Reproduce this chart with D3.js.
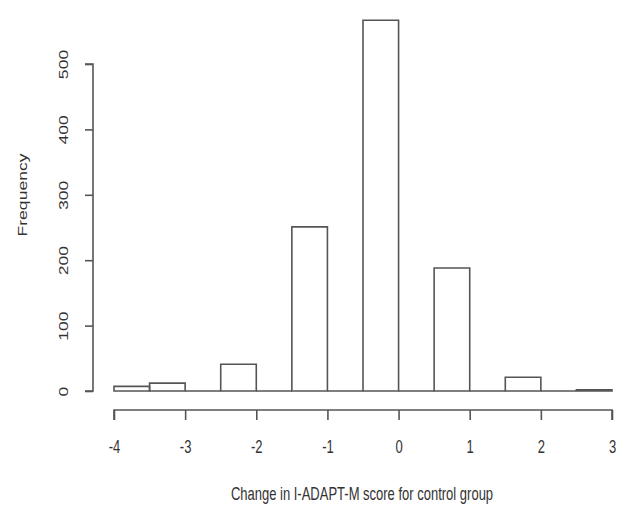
<!DOCTYPE html>
<html><head><meta charset="utf-8">
<script src="https://cdn.jsdelivr.net/npm/d3@7"></script>
<style>body{margin:0;background:#fff}text{font-family:"Liberation Sans",Arial,sans-serif}</style>
</head><body><svg id="c" width="619" height="506"></svg>
<script>
const binStarts = [-4,-3.5,-3,-2.5,-2,-1.5,-1,-0.5,0,0.5,1,1.5,2,2.5];
const counts    = [7,12,0,41,0,251,0,567,0,188,0,21,0,2];
const xTicks = [-4,-3,-2,-1,0,1,2,3];
const yTicks = [0,100,200,300,400,500];
const xTitle = "Change in I-ADAPT-M score for control group";
const yTitle = "Frequency";

const svg = d3.select("#c");
const x = d3.scaleLinear().domain([-4,3]).range([114,612]);
const y = d3.scaleLinear().domain([0,500]).range([391,64]);
const col = "#555";
const stretch = 1.35;

svg.selectAll("path.bar").data(binStarts).enter().append("path")
  .attr("d", (d,i) => `M${x(d)},${y(0)}V${y(counts[i])}H${x(d+0.5)}V${y(0)}Z`)
  .attr("fill","none").attr("stroke",col).attr("stroke-width",1.6);

const xa = svg.append("g").attr("transform","translate(0,410)")
  .call(d3.axisBottom(x).tickValues(xTicks).tickSize(10).tickPadding(0).tickFormat(d => String(d)));
const ya = svg.append("g").attr("transform","translate(93,0)")
  .call(d3.axisLeft(y).tickValues(yTicks).tickSize(8).tickPadding(0));
[xa,ya].forEach(a=>{
  a.select(".domain").attr("stroke",col).attr("stroke-width",1.6);
  a.selectAll(".tick line").attr("stroke",col).attr("stroke-width",1.6);
  a.selectAll("text").attr("fill","#333").style("font-size","13px");
});
xa.select(".domain").attr("d", `M${x(-4)},10V0H${x(3)}V10`);
ya.select(".domain").attr("d", `M-8,${y(0)}H0V${y(500)}H-8`);
xa.selectAll(".tick text").attr("y",null).attr("dy","0.35em")
  .attr("transform",`translate(0,37) scale(1,${stretch})`);
ya.selectAll(".tick text").attr("x",null).attr("dy",null)
  .attr("text-anchor","middle").attr("transform",`translate(-30,0) rotate(-90) scale(${stretch},1)`)
  .attr("dy","0.35em");

svg.append("text").attr("transform",`translate(362,494) scale(1,${stretch})`).attr("dy","0.35em")
  .attr("text-anchor","middle")
  .attr("fill","#333").style("font-size","13px").text(xTitle);
svg.append("text").attr("transform",`translate(22,195) rotate(-90) scale(${stretch},1)`).attr("dy","0.35em")
  .attr("text-anchor","middle")
  .attr("fill","#333").style("font-size","13px").text(yTitle);
</script></body></html>
